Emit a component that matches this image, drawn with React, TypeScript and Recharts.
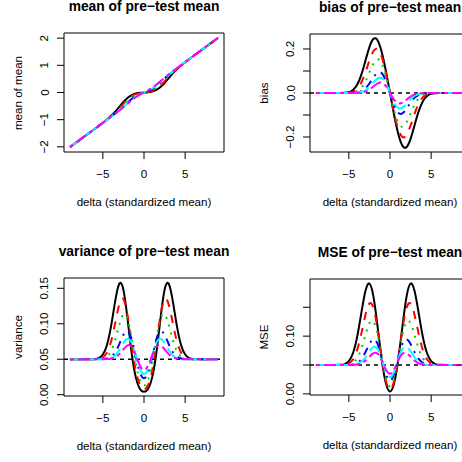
import React from "react";
import { LineChart, Line, XAxis, YAxis, ReferenceLine, ReferenceArea } from "recharts";

// delta grid shared by every panel
const delta = [-9, -8, -7, -6, -5.5, -5, -4.5, -4, -3.5, -3, -2.5, -2, -1.5, -1, -0.5, 0, 0.5, 1, 1.5, 2, 2.5, 3, 3.5, 4, 4.5, 5, 5.5, 6, 7, 8, 9];

// mean of pre-test mean
const meanBlack = [-2.0124, -1.7888, -1.5652, -1.3414, -1.2289, -1.1141, -0.9928, -0.8574, -0.7011, -0.5263, -0.3506, -0.2011, -0.0968, -0.0386, -0.0118, 0, 0.0118, 0.0386, 0.0968, 0.2011, 0.3506, 0.5263, 0.7011, 0.8574, 0.9928, 1.1141, 1.2289, 1.3414, 1.5652, 1.7888, 2.0124];
const meanRed = [-2.0124, -1.7888, -1.5652, -1.3415, -1.2295, -1.1164, -1.0002, -0.8755, -0.7359, -0.5783, -0.4112, -0.2562, -0.1358, -0.0597, -0.0202, 0, 0.0202, 0.0597, 0.1358, 0.2562, 0.4112, 0.5783, 0.7359, 0.8755, 1.0002, 1.1164, 1.2295, 1.3415, 1.5652, 1.7888, 2.0124];
const meanGreen = [-2.0124, -1.7888, -1.5652, -1.3416, -1.2297, -1.1175, -1.0039, -0.8861, -0.7593, -0.6185, -0.4653, -0.3128, -0.1821, -0.0889, -0.0332, 0, 0.0332, 0.0889, 0.1821, 0.3128, 0.4653, 0.6185, 0.7593, 0.8861, 1.0039, 1.1175, 1.2297, 1.3416, 1.5652, 1.7888, 2.0124];
const meanBlue = [-2.0124, -1.7888, -1.5652, -1.3416, -1.2298, -1.1179, -1.0056, -0.8921, -0.7748, -0.6501, -0.5156, -0.3754, -0.2427, -0.1338, -0.0561, 0, 0.0561, 0.1338, 0.2427, 0.3754, 0.5156, 0.6501, 0.7748, 0.8921, 1.0056, 1.1179, 1.2298, 1.3416, 1.5652, 1.7888, 2.0124];
const meanCyan = [-2.0124, -1.7888, -1.5652, -1.3416, -1.2298, -1.118, -1.0059, -0.8932, -0.7784, -0.6588, -0.5319, -0.3989, -0.2691, -0.1562, -0.0686, 0, 0.0686, 0.1562, 0.2691, 0.3989, 0.5319, 0.6588, 0.7784, 0.8932, 1.0059, 1.118, 1.2298, 1.3416, 1.5652, 1.7888, 2.0124];
const meanMagenta = [-2.0124, -1.7888, -1.5652, -1.3416, -1.2298, -1.118, -1.0061, -0.8938, -0.7806, -0.6644, -0.5432, -0.417, -0.2914, -0.1767, -0.0809, 0, 0.0809, 0.1767, 0.2914, 0.417, 0.5432, 0.6644, 0.7806, 0.8938, 1.0061, 1.118, 1.2298, 1.3416, 1.5652, 1.7888, 2.0124];

// bias of pre-test mean
const biasBlack = [0, 0, 0, 0.0002, 0.0009, 0.0039, 0.0134, 0.037, 0.0815, 0.1445, 0.2084, 0.2461, 0.2386, 0.185, 0.1, 0, -0.1, -0.185, -0.2386, -0.2461, -0.2084, -0.1445, -0.0815, -0.037, -0.0134, -0.0039, -0.0009, -0.0002, 0, 0, 0];
const biasRed = [0, 0, 0, 0.0001, 0.0003, 0.0016, 0.006, 0.0189, 0.0467, 0.0925, 0.1478, 0.191, 0.1996, 0.1639, 0.0916, 0, -0.0916, -0.1639, -0.1996, -0.191, -0.1478, -0.0925, -0.0467, -0.0189, -0.006, -0.0016, -0.0003, -0.0001, 0, 0, 0];
const biasGreen = [0, 0, 0, 0, 0.0001, 0.0005, 0.0023, 0.0083, 0.0233, 0.0523, 0.0937, 0.1344, 0.1533, 0.1347, 0.0786, 0, -0.0786, -0.1347, -0.1533, -0.1344, -0.0937, -0.0523, -0.0233, -0.0083, -0.0023, -0.0005, -0.0001, 0, 0, 0, 0];
const biasBlue = [0, 0, 0, 0, 0, 0.0001, 0.0006, 0.0023, 0.0078, 0.0207, 0.0434, 0.0718, 0.0927, 0.0898, 0.0557, 0, -0.0557, -0.0898, -0.0927, -0.0718, -0.0434, -0.0207, -0.0078, -0.0023, -0.0006, -0.0001, 0, 0, 0, 0, 0];
const biasCyan = [0, 0, 0, 0, 0, 0, 0.0003, 0.0012, 0.0042, 0.012, 0.0271, 0.0483, 0.0663, 0.0674, 0.0432, 0, -0.0432, -0.0674, -0.0663, -0.0483, -0.0271, -0.012, -0.0042, -0.0012, -0.0003, 0, 0, 0, 0, 0, 0];
const biasMagenta = [0, 0, 0, 0, 0, 0, 0.0001, 0.0006, 0.002, 0.0064, 0.0158, 0.0302, 0.044, 0.0469, 0.0309, 0, -0.0309, -0.0469, -0.044, -0.0302, -0.0158, -0.0064, -0.002, -0.0006, -0.0001, 0, 0, 0, 0, 0, 0];

// variance of pre-test mean
const varBlack = [0.05, 0.05, 0.05, 0.0503, 0.0515, 0.0567, 0.0701, 0.0966, 0.1319, 0.1563, 0.1478, 0.107, 0.0588, 0.0248, 0.0085, 0.0042, 0.0085, 0.0248, 0.0588, 0.107, 0.1478, 0.1563, 0.1319, 0.0966, 0.0701, 0.0567, 0.0515, 0.0503, 0.05, 0.05, 0.05];
const varRed = [0.05, 0.05, 0.05, 0.05, 0.0505, 0.0528, 0.0594, 0.0751, 0.1009, 0.1273, 0.1347, 0.1119, 0.0711, 0.0346, 0.0138, 0.0076, 0.0138, 0.0346, 0.0711, 0.1119, 0.1347, 0.1273, 0.1009, 0.0751, 0.0594, 0.0528, 0.0505, 0.05, 0.05, 0.05, 0.05];
const varGreen = [0.05, 0.05, 0.05, 0.05, 0.0502, 0.051, 0.0538, 0.0616, 0.0773, 0.0986, 0.1134, 0.1069, 0.0787, 0.0446, 0.021, 0.0131, 0.021, 0.0446, 0.0787, 0.1069, 0.1134, 0.0986, 0.0773, 0.0616, 0.0538, 0.051, 0.0502, 0.05, 0.05, 0.05, 0.05];
const varBlue = [0.05, 0.05, 0.05, 0.05, 0.05, 0.0502, 0.051, 0.0535, 0.0599, 0.0714, 0.0845, 0.0893, 0.0776, 0.0537, 0.0318, 0.0232, 0.0318, 0.0537, 0.0776, 0.0893, 0.0845, 0.0714, 0.0599, 0.0535, 0.051, 0.0502, 0.05, 0.05, 0.05, 0.05, 0.05];
const varCyan = [0.05, 0.05, 0.05, 0.05, 0.05, 0.05, 0.0505, 0.0518, 0.0554, 0.0629, 0.0729, 0.079, 0.0731, 0.0555, 0.0368, 0.029, 0.0368, 0.0555, 0.0731, 0.079, 0.0729, 0.0629, 0.0554, 0.0518, 0.0505, 0.05, 0.05, 0.05, 0.05, 0.05, 0.05];
const varMagenta = [0.05, 0.05, 0.05, 0.05, 0.05, 0.05, 0.0502, 0.0508, 0.0528, 0.0572, 0.064, 0.0696, 0.0674, 0.0556, 0.0412, 0.0348, 0.0412, 0.0556, 0.0674, 0.0696, 0.064, 0.0572, 0.0528, 0.0508, 0.0502, 0.05, 0.05, 0.05, 0.05, 0.05, 0.05];

// MSE of pre-test mean
const mseBlack = [0.05, 0.05, 0.05, 0.0503, 0.0515, 0.0567, 0.0703, 0.098, 0.1385, 0.1772, 0.1912, 0.1676, 0.1157, 0.059, 0.0185, 0.0042, 0.0185, 0.059, 0.1157, 0.1676, 0.1912, 0.1772, 0.1385, 0.098, 0.0703, 0.0567, 0.0515, 0.0503, 0.05, 0.05, 0.05];
const mseRed = [0.05, 0.05, 0.05, 0.05, 0.0505, 0.0528, 0.0594, 0.0755, 0.1031, 0.1359, 0.1565, 0.1484, 0.1109, 0.0615, 0.0222, 0.0076, 0.0222, 0.0615, 0.1109, 0.1484, 0.1565, 0.1359, 0.1031, 0.0755, 0.0594, 0.0528, 0.0505, 0.05, 0.05, 0.05, 0.05];
const mseGreen = [0.05, 0.05, 0.05, 0.05, 0.0502, 0.051, 0.0538, 0.0617, 0.0778, 0.1013, 0.1222, 0.125, 0.1022, 0.0627, 0.0272, 0.0131, 0.0272, 0.0627, 0.1022, 0.125, 0.1222, 0.1013, 0.0778, 0.0617, 0.0538, 0.051, 0.0502, 0.05, 0.05, 0.05, 0.05];
const mseBlue = [0.05, 0.05, 0.05, 0.05, 0.05, 0.0502, 0.051, 0.0535, 0.06, 0.0718, 0.0864, 0.0945, 0.0862, 0.0618, 0.0349, 0.0232, 0.0349, 0.0618, 0.0862, 0.0945, 0.0864, 0.0718, 0.06, 0.0535, 0.051, 0.0502, 0.05, 0.05, 0.05, 0.05, 0.05];
const mseCyan = [0.05, 0.05, 0.05, 0.05, 0.05, 0.05, 0.0505, 0.0518, 0.0554, 0.063, 0.0736, 0.0813, 0.0775, 0.06, 0.0387, 0.029, 0.0387, 0.06, 0.0775, 0.0813, 0.0736, 0.063, 0.0554, 0.0518, 0.0505, 0.05, 0.05, 0.05, 0.05, 0.05, 0.05];
const mseMagenta = [0.05, 0.05, 0.05, 0.05, 0.05, 0.05, 0.0502, 0.0508, 0.0528, 0.0572, 0.0643, 0.0705, 0.0693, 0.0578, 0.0422, 0.0348, 0.0422, 0.0578, 0.0693, 0.0705, 0.0643, 0.0572, 0.0528, 0.0508, 0.0502, 0.05, 0.05, 0.05, 0.05, 0.05, 0.05];

// ticks
const xTicks = [-5, 0, 5];
const xTickLabels = ["\u22125", "0", "5"];
const meanTicks = [-2, -1, 0, 1, 2];
const meanTickLabels = ["\u22122", "\u22121", "0", "1", "2"];
const biasTicks = [-0.2, -0.1, 0, 0.1, 0.2];
const biasTickLabels = ["\u22120.2", "", "0.0", "", "0.2"];
const varTicks = [0, 0.05, 0.1, 0.15];
const varTickLabels = ["0.00", "0.05", "0.10", "0.15"];
const mseTicks = [0, 0.05, 0.1, 0.15];
const mseTickLabels = ["0.00", "", "0.10", ""];

const FONT = '"Liberation Sans", Arial, Helvetica, sans-serif';
const TXT = 11.6;

// R palette 1:6 with lty 1:6 at lwd = 2
const lineStyles = [
  { color: "#000000", dash: undefined },
  { color: "#FF0000", dash: "8 8" },
  { color: "#00CD00", dash: "2 6" },
  { color: "#0000FF", dash: "2 6 8 6" },
  { color: "#00FFFF", dash: "14 6" },
  { color: "#FF00FF", dash: "4 4 12 4" },
];

const buildRows = (cols: number[][]) =>
  delta.map((d, i) => {
    const row: Record<string, number> = { delta: d };
    cols.forEach((c, k) => (row["s" + k] = c[i]));
    return row;
  });

interface PanelProps {
  title: string;
  ylab: string;
  cl: number;
  ct: number;
  cw: number;
  ch: number;
  plot: { l: number; r: number; t: number; b: number };
  yDomain: [number, number];
  yTicks: number[];
  yTickLabels: string[];
  refY?: number;
  cols: number[][];
}

const Y_W = 30;
const X_H = 30;
const X_DOMAIN: [number, number] = [-9.72, 9.72];

const Panel: React.FC<PanelProps> = ({ title, ylab, cl, ct, cw, ch, plot, yDomain, yTicks, yTickLabels, refY, cols }) => {
  const data = buildRows(cols);
  const margin = {
    top: plot.t - ct,
    left: plot.l - cl - Y_W,
    right: cl + cw - plot.r,
    bottom: ct + ch - plot.b - X_H,
  };
  const cx = (plot.l + plot.r) / 2;
  const cy = (plot.t + plot.b) / 2;

  const axes = (show: boolean) => [
    <XAxis
      key="x"
      dataKey="delta"
      type="number"
      domain={X_DOMAIN}
      allowDataOverflow
      ticks={xTicks}
      interval={0}
      axisLine={false}
      tickSize={7}
      tickMargin={0}
      height={X_H}
      hide={!show}
      tickLine={{ stroke: "#000" }}
      tick={(p: any) => (
        <text x={p.x} y={p.y + 14} textAnchor="middle" dominantBaseline="central" fontSize={TXT} fontFamily={FONT} fill="#000">
          {xTickLabels[p.index]}
        </text>
      )}
    />,
    <YAxis
      key="y"
      type="number"
      domain={yDomain}
      allowDataOverflow
      ticks={yTicks}
      interval={0}
      axisLine={false}
      tickSize={7}
      tickMargin={0}
      width={Y_W}
      hide={!show}
      tickLine={{ stroke: "#000" }}
      tick={(p: any) => (
        <text
          x={p.x - 13}
          y={p.y}
          transform={`rotate(-90, ${p.x - 13}, ${p.y})`}
          textAnchor="middle"
          dominantBaseline="central"
          fontSize={TXT}
          fontFamily={FONT}
          fill="#000"
        >
          {yTickLabels[p.index]}
        </text>
      )}
    />,
  ];

  // hidden axes still need to reserve the same space, so keep the margins identical
  const hiddenMargin = {
    top: margin.top,
    left: margin.left + Y_W,
    right: margin.right,
    bottom: margin.bottom + X_H,
  };

  return (
    <>
      {/* bottom layer: axes, box and the dashed reference line */}
      <div style={{ position: "absolute", left: cl, top: ct }}>
        <LineChart width={cw} height={ch} data={data} margin={margin}>
          {axes(true)}
          {refY !== undefined && (
            <ReferenceLine y={refY} stroke="#000" strokeWidth={1.3} strokeDasharray="4 4" />
          )}
          <ReferenceArea
            x1={X_DOMAIN[0]}
            x2={X_DOMAIN[1]}
            y1={yDomain[0]}
            y2={yDomain[1]}
            fill="none"
            fillOpacity={0}
            stroke="#000"
            strokeWidth={1}
            ifOverflow="visible"
          />
        </LineChart>
      </div>
      {/* top layer: the six curves */}
      <div style={{ position: "absolute", left: cl, top: ct }}>
        <LineChart width={cw} height={ch} data={data} margin={hiddenMargin}>
          {axes(false)}
          {lineStyles.map((s, k) => (
            <Line
              key={k}
              dataKey={"s" + k}
              type="natural"
              stroke={s.color}
              strokeWidth={2}
              strokeDasharray={s.dash}
              dot={false}
              activeDot={false}
              isAnimationActive={false}
            />
          ))}
        </LineChart>
      </div>
      <div
        style={{
          position: "absolute",
          left: cx,
          top: plot.t - 27,
          transform: "translate(-50%, -50%)",
          whiteSpace: "nowrap",
          fontWeight: "bold",
          fontSize: 13.8,
          fontFamily: FONT,
        }}
      >
        {title}
      </div>
      <div
        style={{
          position: "absolute",
          left: cx,
          top: plot.b + 49,
          transform: "translate(-50%, -50%)",
          whiteSpace: "nowrap",
          fontSize: TXT,
          fontFamily: FONT,
        }}
      >
        delta (standardized mean)
      </div>
      <div
        style={{
          position: "absolute",
          left: plot.l - 47,
          top: cy,
          transform: "translate(-50%, -50%) rotate(-90deg)",
          whiteSpace: "nowrap",
          fontSize: TXT,
          fontFamily: FONT,
        }}
      >
        {ylab}
      </div>
    </>
  );
};

export default function App() {
  return (
    <div
      style={{
        position: "absolute",
        left: 0,
        top: 0,
        width: 462,
        height: 462,
        overflow: "hidden",
        background: "#fff",
        color: "#000",
      }}
    >
      <Panel
        title="mean of pre−test mean"
        ylab="mean of mean"
        cl={0}
        ct={0}
        cw={231}
        ch={231}
        plot={{ l: 64, r: 224, t: 33, b: 152 }}
        yDomain={[-2.19, 2.19]}
        yTicks={meanTicks}
        yTickLabels={meanTickLabels}
        cols={[meanBlack, meanRed, meanGreen, meanBlue, meanCyan, meanMagenta]}
      />
      <Panel
        title="bias of pre−test mean"
        ylab="bias"
        cl={231}
        ct={0}
        cw={246}
        ch={231}
        plot={{ l: 310, r: 470, t: 34, b: 152 }}
        yDomain={[-0.268, 0.268]}
        yTicks={biasTicks}
        yTickLabels={biasTickLabels}
        refY={0}
        cols={[biasBlack, biasRed, biasGreen, biasBlue, biasCyan, biasMagenta]}
      />
      <Panel
        title="variance of pre−test mean"
        ylab="variance"
        cl={0}
        ct={231}
        cw={231}
        ch={231}
        plot={{ l: 64, r: 224, t: 278, b: 396 }}
        yDomain={[-0.0018, 0.1645]}
        yTicks={varTicks}
        yTickLabels={varTickLabels}
        refY={0.05}
        cols={[varBlack, varRed, varGreen, varBlue, varCyan, varMagenta]}
      />
      <Panel
        title="MSE of pre−test mean"
        ylab="MSE"
        cl={231}
        ct={231}
        cw={246}
        ch={231}
        plot={{ l: 310, r: 470, t: 279, b: 395 }}
        yDomain={[-0.002, 0.199]}
        yTicks={mseTicks}
        yTickLabels={mseTickLabels}
        refY={0.05}
        cols={[mseBlack, mseRed, mseGreen, mseBlue, mseCyan, mseMagenta]}
      />
    </div>
  );
}
